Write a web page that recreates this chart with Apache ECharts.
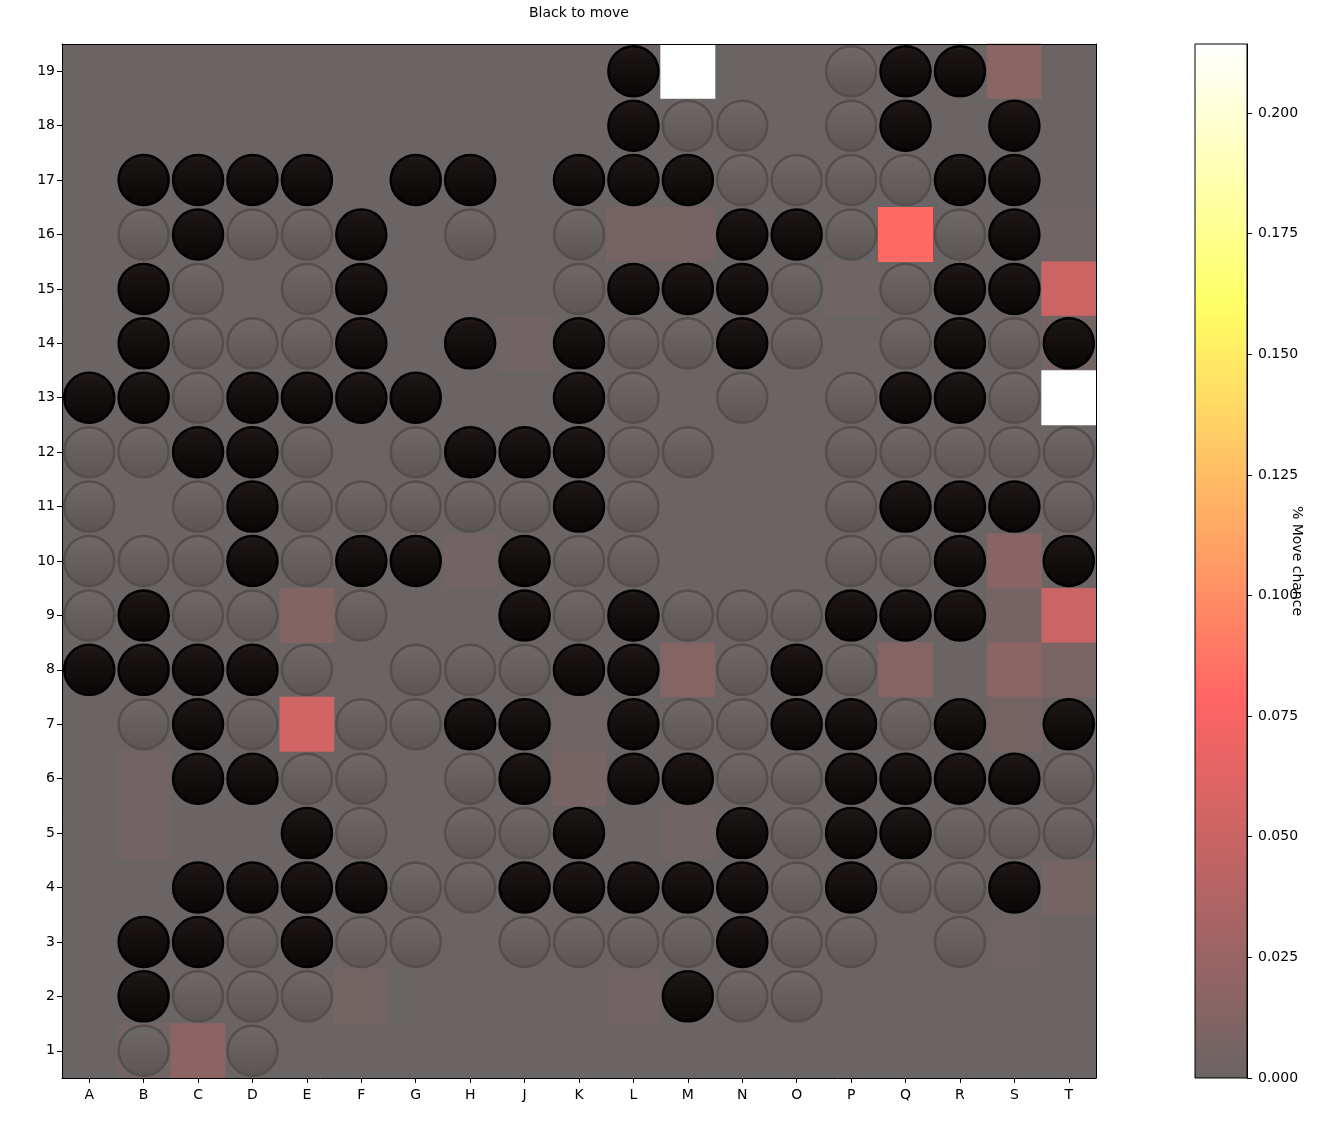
<!DOCTYPE html>
<html>
<head>
<meta charset="utf-8">
<script src="https://cdn.jsdelivr.net/npm/echarts@6/dist/echarts.min.js"></script>
<style>
html,body{margin:0;padding:0;background:#ffffff;}
#chart{width:1341px;height:1124px;}
</style>
</head>
<body>
<div id="chart"></div>
<script>
// ---------- data ----------
const COLUMNS = ['A','B','C','D','E','F','G','H','J','K','L','M','N','O','P','Q','R','S','T'];
const ROWS = ['1','2','3','4','5','6','7','8','9','10','11','12','13','14','15','16','17','18','19'];
// board, row 19 first; B = black stone, W = white stone, . = empty
const BOARD_ROWS = [
  '..........B...WBB..', // 19
  '..........BWW.WB.B.', // 18
  '.BBBB.BB.BBBWWWWBB.', // 17
  '.WBWWB.W.W..BBW.WB.', // 16
  '.BW.WB...WBBBW.WBB.', // 15
  '.BWWWB.B.BWWBW.WBWB', // 14
  'BBWBBBB..BW.W.WBBW.', // 13
  'WWBBW.WBBBWW..WWWWW', // 12
  'W.WBWWWWWBW...WBBBW', // 11
  'WWWBWBB.BWW...WWB.B', // 10
  'WBWW.W..BWBWWWBBB..', // 9
  'BBBBW.WWWBB.WBW....', // 8
  '.WBW.WWBB.BWWBBWB.B', // 7
  '..BBWW.WB.BBWWBBBBW', // 6
  '....BW.WWB..BWBBWWW', // 5
  '..BBBBWWBBBBBWBWWB.', // 4
  '.BBWBWW.WWWWBWW.W..', // 3
  '.BWWW......BWW.....', // 2
  '.W.W...............'  // 1
];
// move-chance values (all other points are 0)
const HEAT_POINTS = [
  ['M',19,0.2143],['S',19,0.017],
  ['L',16,0.006],['M',16,0.006],['Q',16,0.081],['T',16,0.003],
  ['P',15,0.003],['T',15,0.052],
  ['J',14,0.004],['T',14,0.005],
  ['T',13,0.2143],
  ['H',10,0.004],['S',10,0.016],
  ['E',9,0.012],['S',9,0.007],['T',9,0.051],
  ['M',8,0.014],['Q',8,0.014],['S',8,0.017],['T',8,0.008],
  ['E',7,0.054],['K',7,0.003],['S',7,0.006],
  ['B',6,0.004],['K',6,0.007],
  ['B',5,0.004],['M',5,0.003],
  ['T',4,0.006],
  ['S',3,0.002],
  ['F',2,0.005],['L',2,0.004],
  ['B',1,0.004],['C',1,0.018]
];
const VMAX = 0.2143;
const COLORBAR_TICKS = [0,0.025,0.05,0.075,0.1,0.125,0.15,0.175,0.2];
const TITLE = 'Black to move';
const COLORBAR_LABEL = '% Move chance';

// ---------- colour map (matplotlib "hot", drawn with alpha over white) ----------
const ALPHA = 0.607;
function hotRGB(t){
  const r = t < 0.365079 ? 0.0416 + (1-0.0416)*t/0.365079 : 1;
  const g = t < 0.365079 ? 0 : (t < 0.746032 ? (t-0.365079)/(0.746032-0.365079) : 1);
  const b = t < 0.746032 ? 0 : (t-0.746032)/(1-0.746032);
  const mix = c => Math.round(255*(1-ALPHA) + 255*Math.min(1,c)*ALPHA);
  return 'rgb(' + mix(r) + ',' + mix(g) + ',' + mix(b) + ')';
}
const NSTOP = 96;
const CMAP = [];
const CMAP_STOPS = [];
for (let i = 0; i <= NSTOP; i++) {
  const c = hotRGB(i/NSTOP);
  CMAP.push(c);
  CMAP_STOPS.push({offset: i/NSTOP, color: c});
}

// ---------- build series data ----------
const blackStones = [], whiteStones = [];
BOARD_ROWS.forEach((line, i) => {
  const rowIdx = 18 - i;
  for (let j = 0; j < line.length; j++) {
    if (line[j] === 'B') blackStones.push([j, rowIdx]);
    else if (line[j] === 'W') whiteStones.push([j, rowIdx]);
  }
});
const heatData = HEAT_POINTS.map(p => [COLUMNS.indexOf(p[0]), p[1]-1, p[2]]);

const FONT = 'DejaVu Sans';
const chart = echarts.init(document.getElementById('chart'), null, {renderer:'canvas'});
const catAxisCommon = {
  type: 'category',
  boundaryGap: true,
  axisLine: {show: true, onZero: false, lineStyle: {color: '#000', width: 1}},
  splitLine: {show: false},
  z: 10
};
chart.setOption({
  animation: false,
  backgroundColor: '#ffffff',
  textStyle: {fontFamily: FONT},
  title: {
    text: TITLE,
    left: 529, top: 6, padding: 0,
    textStyle: {fontSize: 14, fontWeight: 'normal', color: '#000', fontFamily: FONT}
  },
  grid: [
    {left: 62, top: 44, width: 1034, height: 1034, show: true,
     backgroundColor: hotRGB(0), borderWidth: 0, containLabel: false},
    {left: 1195, top: 44, width: 52, height: 1034, show: true,
     backgroundColor: {type: 'linear', x: 0, y: 1, x2: 0, y2: 0, colorStops: CMAP_STOPS},
     borderColor: '#000', borderWidth: 1, containLabel: false}
  ],
  xAxis: [
    Object.assign({}, catAxisCommon, {
      gridIndex: 0, position: 'bottom', data: COLUMNS,
      axisTick: {show: true, alignWithLabel: true, length: 5, lineStyle: {color: '#000'}},
      axisLabel: {color: '#000', fontSize: 14, margin: 10, fontFamily: FONT}
    }),
    Object.assign({}, catAxisCommon, {
      gridIndex: 0, position: 'top', data: COLUMNS,
      axisTick: {show: false}, axisLabel: {show: false}
    }),
    {gridIndex: 1, type: 'value', min: 0, max: 1, show: false}
  ],
  yAxis: [
    Object.assign({}, catAxisCommon, {
      gridIndex: 0, position: 'left', data: ROWS,
      axisTick: {show: true, alignWithLabel: true, length: 5, lineStyle: {color: '#000'}},
      axisLabel: {color: '#000', fontSize: 14, margin: 7, fontFamily: FONT}
    }),
    Object.assign({}, catAxisCommon, {
      gridIndex: 0, position: 'right', data: ROWS,
      axisTick: {show: false}, axisLabel: {show: false}
    }),
    {
      gridIndex: 1, type: 'value', position: 'right', min: 0, max: VMAX,
      axisLine: {show: true, onZero: false, lineStyle: {color: '#000', width: 1}},
      axisTick: {show: true, inside: false, length: 5, customValues: COLORBAR_TICKS, lineStyle: {color: '#000'}},
      axisLabel: {show: true, customValues: COLORBAR_TICKS, color: '#000', fontSize: 14, margin: 11,
                  fontFamily: FONT, formatter: v => Number(v).toFixed(3)},
      splitLine: {show: false},
      name: COLORBAR_LABEL, nameLocation: 'middle', nameRotate: -90, nameGap: 43,
      nameMoveOverlap: false,
      nameTextStyle: {color: '#000', fontSize: 14, fontFamily: FONT},
      z: 10
    }
  ],
  visualMap: {
    show: false, type: 'continuous', seriesIndex: 0,
    min: 0, max: VMAX, inRange: {color: CMAP}
  },
  series: [
    {
      type: 'heatmap', xAxisIndex: 0, yAxisIndex: 0, data: heatData, z: 2,
      itemStyle: {borderWidth: 0},
      emphasis: {disabled: true}, silent: true
    },
    {
      type: 'scatter', xAxisIndex: 0, yAxisIndex: 0, data: whiteStones, z: 3,
      symbol: 'circle', symbolSize: 50,
      itemStyle: {
        color: {type: 'linear', x: 0, y: 0, x2: 0, y2: 1, colorStops: [
          {offset: 0, color: '#6f6968'}, {offset: 1, color: '#5b5554'}]},
        borderColor: '#544e4d', borderWidth: 2.5, opacity: 1
      },
      emphasis: {disabled: true}, silent: true
    },
    {
      type: 'scatter', xAxisIndex: 0, yAxisIndex: 0, data: blackStones, z: 4,
      symbol: 'circle', symbolSize: 50,
      itemStyle: {
        color: {type: 'linear', x: 0, y: 0, x2: 0, y2: 1, colorStops: [
          {offset: 0, color: '#28221f'}, {offset: 0.12, color: '#1b1615'}, {offset: 1, color: '#0a0605'}]},
        borderColor: '#000000', borderWidth: 2.5, opacity: 1
      },
      emphasis: {disabled: true}, silent: true
    }
  ]
});
</script>
</body>
</html>
